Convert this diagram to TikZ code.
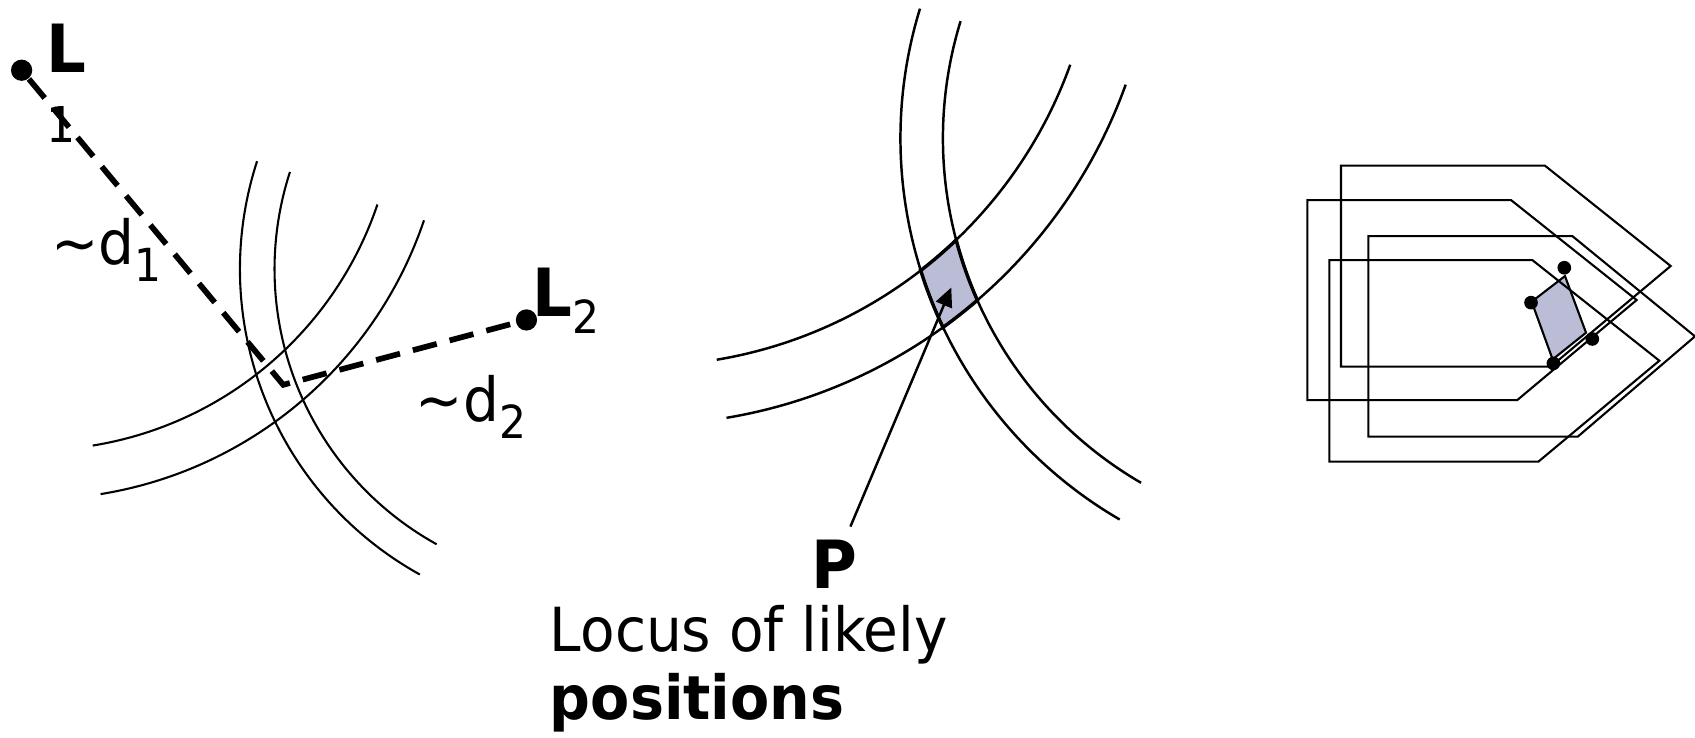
\documentclass[tikz,border=0pt]{standalone}
\usepackage{fontspec}
\setmainfont{DejaVu Sans}[FakeStretch=0.93, BoldFeatures={FakeStretch=0.94}]
\usepackage{tikz}
\usetikzlibrary{arrows.meta}
\definecolor{locusfill}{RGB}{187,189,214}
\newcommand{\lsub}[1]{\raisebox{-4.5pt}{\fontsize{12}{12}\selectfont #1}}

\begin{document}
\begin{tikzpicture}[x=0.1mm, y=0.1mm,
        font=\fontsize{16}{18}\selectfont,
        dot/.style={circle, fill=black, inner sep=0pt, minimum size=5.6pt},
        smalldot/.style={circle, fill=black, inner sep=0pt, minimum size=3.6pt},
        lbl/.style={inner sep=0pt, anchor=base west},
        bigbold/.style={font=\fontsize{17.5}{18}\selectfont\bfseries},
        rangeline/.style={line width=1.5pt, dash pattern=on 6.5pt off 3.5pt},
        ring/.style={line width=0.55pt},
        house/.style={line width=0.55pt},
        ptr/.style={line width=0.65pt, -{Triangle[length=5pt, width=4.5pt]}}]
    \useasboundingbox (0,0) rectangle (1568,682);

    % Left panel rings
    \draw[ring] (545,433) ++(162:323) arc[start angle=162, end angle=241, radius=323];
    \draw[ring] (545,433) ++(162:291) arc[start angle=162, end angle=241, radius=291];
    \draw[ring] (32.3,600) ++(-18.7:334.5) arc[start angle=-18.7, end angle=-80.8, radius=334.5];
    \draw[ring] (32.3,600) ++(-18.7:380) arc[start angle=-18.7, end angle=-80.8, radius=380];

    % Middle panel: shaded overlap, then rings
    \filldraw[fill=locusfill, line width=0.9pt] (851.7,431.8)
        arc[start angle=197.43, end angle=205.38, radius=408]
        arc[start angle=-54.15, end angle=-49.27, radius=476]
        arc[start angle=203.97, end angle=194.78, radius=368.7]
        arc[start angle=-46.35, end angle=-52.22, radius=421.5] -- cycle;
    \draw[ring, line width=0.65pt] (1241,554) ++(162.9:408) arc[start angle=162.9, end angle=239.8, radius=408];
    \draw[ring, line width=0.65pt] (1241,554) ++(162.9:368.7) arc[start angle=162.9, end angle=239.8, radius=368.7];
    \draw[ring, line width=0.65pt] (593.5,764.9) ++(-19.8:421.5) arc[start angle=-19.8, end angle=-80.5, radius=421.5];
    \draw[ring, line width=0.65pt] (593.5,764.9) ++(-19.8:476) arc[start angle=-19.8, end angle=-80.5, radius=476];

    % Landmarks and ranges
    \node[dot] (L1) at (20,617) {};
    \node[dot] (L2) at (487,386) {};
    \coordinate (K) at (262,326);
    \draw[rangeline] (L1) -- (K) -- (L2);

    \node[lbl, bigbold] (L1lbl) at (42,615) {L};
    \node[lbl, font=\fontsize{13}{13}\selectfont] (L1sub) at (42,550) {1};
    \node[lbl] (L2lbl) at (492,389) {{\fontsize{17.5}{18}\selectfont\bfseries L}\lsub{2}};
    \node[lbl] (d1lbl) at (47,437) {\textasciitilde d\lsub{1}};
    \node[lbl] (d2lbl) at (384,292) {\textasciitilde d\lsub{2}};

    % Pointer to the locus
    \coordinate (ptip) at (880,416);
    \node[bigbold] (P) at (772,160) {P};
    \draw[ptr] (P) -- (ptip);
    \node[lbl] (locus) at (508,79) {Locus of likely};
    \node[lbl, font=\fontsize{16}{18}\selectfont\bfseries] (posn) at (508,16) {positions};

    % Right panel
    \filldraw[fill=locusfill, line width=0.55pt] (1447.7,426.6) -- (1467.2,374.2) -- (1436.3,349.5) -- (1416.9,402.9) -- cycle;
    \draw[house] (1240.5,528.7) -- (1429.2,528.7) -- (1545.5,435.9) -- (1434.5,342.8) -- (1240.5,342.8) -- cycle;
    \draw[house] (1209.4,496.9) -- (1397.8,496.9) -- (1514.0,404.4) -- (1403.6,311.9) -- (1209.4,311.9) -- cycle;
    \draw[house] (1265.8,463.6) -- (1454.5,463.6) -- (1568.0,370.8) -- (1459.5,278.0) -- (1265.8,278.0) -- cycle;
    \draw[house] (1229.7,441.4) -- (1417.5,441.4) -- (1535.0,348.3) -- (1423.1,254.9) -- (1229.7,254.9) -- cycle;
    \node[smalldot] (q1) at (1447.1,434.3) {};
    \node[smalldot] (q2) at (1416.3,402.0) {};
    \node[smalldot] (q3) at (1473.0,368.4) {};
    \node[smalldot] (q4) at (1437.0,345.8) {};
\end{tikzpicture}
\end{document}
